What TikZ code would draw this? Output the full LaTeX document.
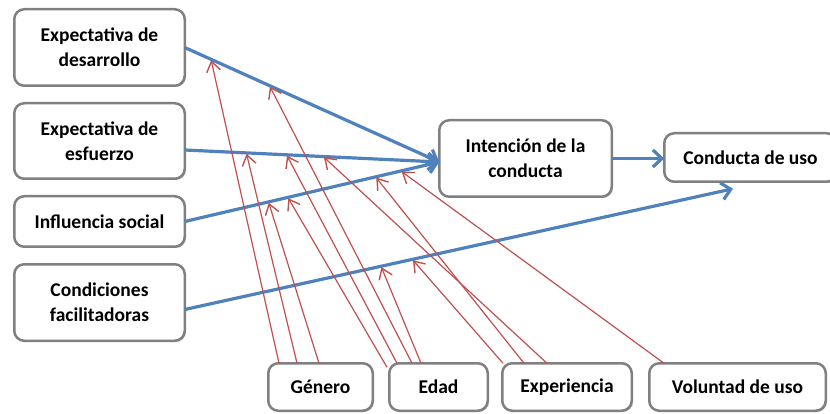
\documentclass[tikz,border=0pt]{standalone}
\usepackage{fontspec}
\setmainfont{Carlito}
\usetikzlibrary{arrows.meta,calc,shadows}
\definecolor{boxgray}{RGB}{128,128,128}
\definecolor{flowblue}{RGB}{79,129,189}
\definecolor{modred}{RGB}{192,80,77}
\begin{document}
\begin{tikzpicture}[x=1pt,y=-1pt,
  box/.style={draw=boxgray, line width=2.5pt, rounded corners=10pt, fill=white,
    align=center, inner sep=0pt, outer sep=0pt,
    font=\fontsize{19.5}{25}\selectfont\bfseries,
    drop shadow={shadow xshift=1.2pt, shadow yshift=-1.2pt, opacity=0.25, fill=black}},
  flow/.style={draw=flowblue, line width=3.2pt, -{Straight Barb[length=9pt,width=17pt]}},
  mod/.style={draw=modred, line width=1.2pt, -{Straight Barb[length=10pt,width=14pt,line width=1.4pt]}, shorten >=1pt}]
\useasboundingbox (0,0) rectangle (830,414);
\clip (0,0) rectangle (830,414);

% boxes
\node[box, minimum width=170.5pt, minimum height=76.5pt] (ed) at (99.5,47.5) {Expectativa de\\desarrollo};
\node[box, minimum width=170.5pt, minimum height=75.5pt] (ee) at (99.5,141) {Expectativa de\\esfuerzo};
\node[box, minimum width=170.5pt, minimum height=50.5pt] (is) at (99.5,221.5) {Influencia social};
\node[box, minimum width=170.5pt, minimum height=76.5pt] (cf) at (99.5,302.5) {Condiciones\\facilitadoras};
\node[box, minimum width=172.5pt, minimum height=76.5pt] (ic) at (525.5,158.5) {Intención de la\\conducta};
\node[box, minimum width=172.5pt, minimum height=48.5pt] (cu) at (750.5,157.5) {Conducta de uso};
\node[box, minimum width=104.5pt, minimum height=47.5pt] (ge) at (320.5,387) {Género};
\node[box, minimum width=98.5pt, minimum height=47.5pt] (eda) at (438.5,387) {Edad};
\node[box, minimum width=129.5pt, minimum height=47.5pt] (exp) at (567,387) {Experiencia};
\node[box, minimum width=176.5pt, minimum height=47.5pt] (vol) at (737.5,387) {Voluntad de uso};

% anchor points
\coordinate (icin) at ([yshift=-3.5pt]ic.west);
\coordinate (eeout) at ([yshift=-9pt]ee.east);
\coordinate (cfout) at ([yshift=-7pt]cf.east);
\coordinate (cuin) at ([xshift=-17.5pt,yshift=-7pt]cu.south);

% main flows
\draw[flow] (ed.east) -- (icin);
\draw[flow] (eeout) -- (icin);
\draw[flow] (is.east) -- (icin);
\draw[flow] (cfout) -- (cuin);
\draw[flow] (ic.east) -- (ic.east -| cu.west);

% moderators
\draw[mod] ([xshift=-41.5pt]ge.north) -- ($(ed.east)!0.103!(icin)$);
\draw[mod] ([xshift=-23.5pt]ge.north) -- ($(eeout)!0.242!(icin)$);
\draw[mod] ([xshift=-1.5pt]ge.north) -- ($(is.east)!0.329!(icin)$);

\draw[mod] ([xshift=-51.5pt,yshift=-4pt]eda.north) -- ($(is.east)!0.405!(icin)$);
\draw[mod] ([xshift=-41.5pt]eda.north) -- ($(eeout)!0.40!(icin)$);
\draw[mod] ([xshift=-26.5pt]eda.north) -- ($(ed.east)!0.333!(icin)$);
\draw[mod] ([xshift=-17.5pt]eda.north) -- ($(cfout)!0.358!(cuin)$);

\draw[mod] ([xshift=-64pt]exp.north) -- ($(cfout)!0.415!(cuin)$);
\draw[mod] ([xshift=-43pt]exp.north) -- ($(is.east)!0.75!(icin)$);
\draw[mod] ([xshift=-20pt]exp.north) -- ($(eeout)!0.544!(icin)$);

\draw[mod] ([xshift=-73.5pt]vol.north) -- ($(is.east)!0.849!(icin)$);
\end{tikzpicture}
\end{document}
